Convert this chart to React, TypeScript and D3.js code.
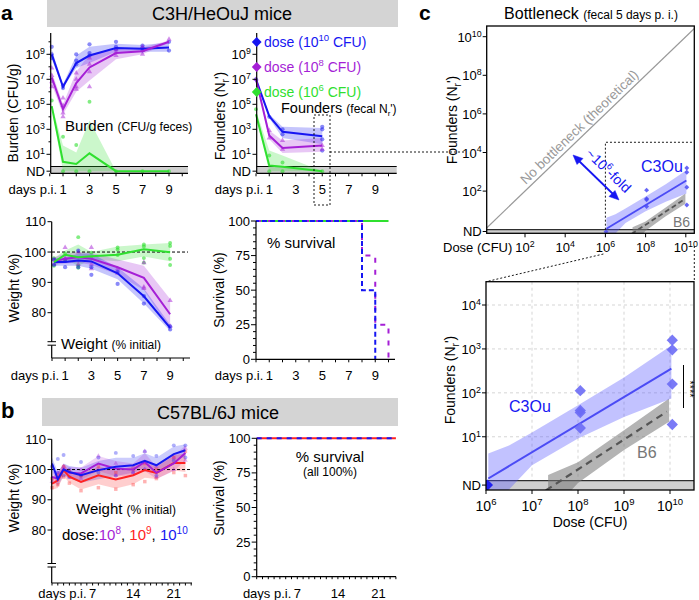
import React from "react";
import * as d3 from "d3";

const FONT = "'Liberation Sans', Arial, Helvetica, sans-serif";
const BLUE = "#1616f2";
const PURPLE = "#a51fd6";
const GREEN = "#2fe02f";
const RED = "#ff2222";
const CBLUE = "#4b4bf5";
const ND_A = -0.35;
const ND_C = -0.1;

// ---------- panel a: burden (log10 CFU/g) ----------
const burdenDays = [0.15, 1, 2, 3, 5, 7, 9];
const burdenBlue = [9.0, 6.4, 8.3, 8.9, 9.5, 9.45, 9.55];
const burdenBlueLo = [8.6, 6.3, 7.9, 8.3, 9.2, 9.2, 9.2];
const burdenBlueHi = [9.4, 6.6, 8.9, 9.6, 9.85, 9.75, 9.95];
const burdenPurple = [7.15, 4.6, 6.7, 7.95, 9.1, 9.25, 10.0];
const burdenPurpleLo = [6.6, 4.2, 6.0, 6.9, 8.6, 9.0, 9.9];
const burdenPurpleHi = [7.6, 5.0, 7.6, 9.0, 9.4, 9.55, 10.1];
const burdenGreen = [4.85, 0.4, 0.22, 1.08, ND_A, ND_A, ND_A];
const burdenGreenLo = [4.7, ND_A, ND_A, ND_A, ND_A, ND_A, ND_A];
const burdenGreenHi = [5.0, 1.7, 1.15, 3.7, ND_A, ND_A, ND_A];
const burdenBluePts = [[0.15, 9.6], [0.15, 9.0], [0.15, 8.7], [1, 6.5], [1, 6.3], [2, 9.0], [2, 8.5], [2, 8.2], [3, 9.8], [3, 9.1], [3, 8.9], [5, 10.0], [5, 9.6], [5, 9.4], [7, 9.7], [7, 9.5], [7, 9.3], [9, 10.0], [9, 9.3]];
const burdenPurplePts = [[0.15, 7.9], [0.15, 7.3], [0.15, 6.8], [0.15, 6.4], [1, 5.5], [1, 4.9], [1, 4.3], [1, 4.0], [2, 7.5], [2, 7.0], [2, 6.4], [2, 6.2], [3, 8.7], [3, 8.2], [3, 7.6], [3, 6.4], [5, 9.4], [5, 9.2], [5, 8.9], [7, 9.6], [7, 9.3], [7, 9.0], [9, 10.2]];
const burdenGreenPts = [[0.15, 5.3], [1, 2.4], [1, ND_A], [2, 1.75], [2, ND_A], [3, 5.2], [3, ND_A], [5, ND_A], [7, ND_A], [9, ND_A]];

// ---------- panel a: founders ----------
const fDays = [0, 1, 2, 5];
const foundBlue = [7.0, 4.05, 2.8, 2.45];
const foundBlueLo = [7.0, 3.9, 2.3, 1.8];
const foundBlueHi = [7.0, 4.2, 3.2, 3.1];
const foundPurple = [7.0, 2.5, 1.5, 1.7];
const foundPurpleLo = [7.0, 2.2, 1.1, 1.2];
const foundPurpleHi = [7.0, 2.9, 2.1, 2.3];
const foundGreen = [4.2, 0.1, 0.0, ND_A];
const foundGreenLo = [4.0, ND_A, ND_A, ND_A];
const foundGreenHi = [4.5, 1.3, 0.9, ND_A];
const foundBluePts = [[0, 7.0], [1, 4.0], [2, 3.0], [2, 2.6], [5, 3.2], [5, 3.0], [5, 2.2], [5, 1.3]];
const foundPurplePts = [[0, 7.0], [1, 2.9], [1, 2.3], [2, 2.1], [2, 1.4], [5, 1.7], [5, 1.4]];
const foundGreenPts = [[0, 4.6], [1, 0.9], [1, ND_A], [2, 0.35], [2, ND_A], [5, ND_A]];
const legendDoses = ["10", "8", "6"];

// ---------- panel a: weight ----------
const wDays = [0.15, 1, 2, 3, 5, 7, 9];
const wGreen = [96.7, 99.1, 98.3, 98.6, 99.1, 100.9, 99.9];
const wGreenLo = [95.5, 97.5, 95.5, 97.5, 97, 98.5, 97];
const wGreenHi = [98, 100.5, 102.5, 100, 101.8, 102.5, 103];
const wPurple = [97.0, 97.8, 98.3, 97.8, 95.0, 91.5, 79.5];
const wPurpleLo = [95.8, 96.2, 96.5, 95.8, 92.5, 87.5, 74.5];
const wPurpleHi = [98.2, 99.5, 100, 99.8, 97.5, 95.5, 84.5];
const wBlue = [96.7, 96.7, 97.2, 96.9, 93.0, 85.4, 75.0];
const wBlueLo = [95.5, 95.5, 95.5, 94.5, 91, 83, 74];
const wBlueHi = [98, 98, 99.5, 99.5, 95, 88, 76];
const wGreenPts = [[0.15, 95.5], [0.15, 98], [1, 99.5], [1, 97], [2, 104.9], [2, 95.5], [2, 94.8], [3, 99.8], [3, 98], [5, 101.5], [5, 100.8], [5, 99], [7, 102.5], [7, 101.8], [7, 98], [7, 96.5], [9, 103], [9, 102], [9, 97.8], [9, 95.7]];
const wPurplePts = [[0.15, 97.5], [0.15, 96], [1, 101.5], [1, 98], [1, 97], [2, 100], [2, 96], [3, 101.5], [3, 96], [3, 94.5], [5, 94.5], [5, 93], [7, 96.5], [7, 88.5], [7, 88], [9, 84], [9, 75.5]];
const wBluePts = [[0.15, 97.5], [0.15, 95.8], [1, 95], [1, 97.5], [2, 100.5], [2, 95], [3, 92.5], [3, 95], [5, 93.5], [5, 89.5], [7, 85.5], [7, 83], [9, 75.5], [9, 74.5]];

// ---------- panel a: survival ----------
const survGreenDays = [0, 10];
const survGreenVals = [100, 100];
const survPurpleDays = [0, 8, 9, 10];
const survPurpleVals = [100, 75, 25, 0];
const survBlueDays = [0, 8, 9];
const survBlueVals = [100, 50, 0];

// ---------- panel b: weight ----------
const bDays = [0, 1, 2, 3, 5, 8, 11, 14, 16, 18, 21, 23];
const bBlue = [102, 96.8, 100, 99.2, 98.1, 99.8, 100.9, 101.4, 102.9, 101.4, 105.1, 106.4];
const bBlueSd = [2, 2.5, 2, 2, 2.5, 3, 3, 2.5, 2.5, 2.5, 2.5, 2];
const bPurple = [97.5, 97, 100.3, 98.9, 98.7, 102, 100.3, 100, 102.5, 98.9, 102, 105.5];
const bPurpleSd = [2, 2, 1.5, 2, 2, 2.5, 2.5, 2, 3, 2, 2.5, 2.5];
const bRed = [95.3, 96.4, 99.8, 97.6, 95.9, 98.1, 96.7, 98.1, 99.8, 98.9, 102.2, 102.2];
const bRedSd = [2, 2.5, 2, 2, 2.5, 3, 3, 3, 2.5, 2, 2.5, 3];
const bBluePts = [[0, 101], [1, 103.5], [1, 99], [2, 104.8], [2, 98], [3, 100], [3, 97.5], [5, 102.5], [5, 98], [8, 104], [8, 99], [11, 105.5], [11, 98], [14, 104.5], [14, 99], [16, 106], [16, 100], [18, 104.5], [18, 98], [21, 108], [21, 103], [23, 108], [23, 104]];
const bRedPts = [[0, 94], [0, 97], [1, 95], [1, 98], [2, 97.5], [2, 101], [3, 95.5], [3, 99.5], [5, 93], [5, 98], [8, 94], [8, 101], [11, 93.5], [11, 99], [14, 95], [14, 100], [16, 96], [16, 102], [18, 97], [18, 100], [21, 99], [21, 104], [23, 98], [23, 106]];
const bPurplePts = [[0, 96], [1, 99], [2, 101], [3, 97.5], [5, 97], [5, 100], [8, 104.5], [8, 100], [11, 102], [11, 98], [14, 101], [14, 99], [16, 106], [16, 100], [18, 101], [18, 97.5], [21, 104], [21, 100], [23, 107], [23, 103]];

// ---------- panel b: survival ----------
const bSurvDays = [0, 24];
const bSurvVals = [100, 100];

// ---------- panel c ----------
const c3ouPts = [[6.03, ND_C], [8.05, 2.05], [8.05, 1.6], [8.05, 1.55], [8.05, 1.2], [10.05, 3.2], [10.05, 2.98], [10.05, 2.2], [10.05, 1.28]];
const c3ouFitX = [6.05, 10.03];
const c3ouFitY = [0.05, 2.55];
const c3ouBandX = [6.05, 6.5, 7, 8, 9, 10.03];
const c3ouBandLo = [-0.55, -0.2, 0.35, 0.96, 1.45, 1.87];
const c3ouBandHi = [0.62, 0.8, 1.1, 1.72, 2.35, 3.08];
const b6FitX = [7.3, 9.93];
const b6FitY = [-0.22, 1.57];
const b6BandX = [7.35, 8, 9, 9.98];
const b6BandLo = [-0.8, -0.05, 0.7, 1.34];
const b6BandHi = [0.13, 0.42, 1.15, 1.87];
const cTopTicks = [10, 8, 6, 4, 2];
const cTopXTicks = [2, 4, 6, 8, 10];
const cBotYTicks = [4, 3, 2, 1];
const cBotXTicks = [6, 7, 8, 9, 10];

type Sc = d3.ScaleLinear<number, number>;

function areaPath(xs: number[], lo: number[], hi: number[], x: Sc, y: Sc) {
  return d3.area<number>().x((_, i) => x(xs[i])).y0((_, i) => y(lo[i])).y1((_, i) => y(hi[i]))(xs) || "";
}
function linePath(xs: number[], ys: number[], x: Sc, y: Sc, curve: any = d3.curveLinear) {
  return d3.line<number>().x((_, i) => x(xs[i])).y((_, i) => y(ys[i])).curve(curve)(xs) || "";
}
const sym = (t: any, s: number) => d3.symbol().type(t).size(s)() || "";

function Pts({ pts, x, y, color, type, size = 14, op = 0.5, rot = 0 }: any) {
  const p = sym(type, size);
  return (
    <g>
      {pts.map((d: number[], i: number) => (
        <path key={i} d={p} transform={`translate(${x(d[0])},${y(d[1])}) rotate(${rot})`} fill={color} opacity={op} />
      ))}
    </g>
  );
}

function Pow({ e, fs = 13 }: { e: string; fs?: number }) {
  return (
    <>
      10<tspan dy={-fs * 0.4} fontSize={fs * 0.68}>{e}</tspan>
    </>
  );
}

function XDays({ x, y0, x0, x1, days, labels, labelY, minorLen = 3 }: any) {
  return (
    <g>
      <line x1={x0} x2={x1} y1={y0} y2={y0} stroke="#000" strokeWidth={1.2} />
      {days.map((d: number) => (
        <line key={d} x1={x(d)} x2={x(d)} y1={y0} y2={y0 + minorLen} stroke="#000" strokeWidth={1} />
      ))}
      <text x={x(labels[0]) - 6} y={labelY} fontSize={13} textAnchor="end">days p.i.</text>
      {labels.map((d: number) => (
        <text key={d} x={x(d)} y={labelY} fontSize={13} textAnchor="middle">{d}</text>
      ))}
    </g>
  );
}

export default function App() {
  const xA1 = d3.scaleLinear().domain([0, 10]).range([49.75, 182.25]);
  const yA = d3.scaleLinear().domain([1, 9]).range([154.3, 54.3]);
  const xA2 = d3.scaleLinear().domain([0, 10]).range([256, 388.5]);
  const xA3 = d3.scaleLinear().domain([0, 10]).range([52, 183.25]);
  const yA3 = d3.scaleLinear().domain([80, 110]).range([312.7, 221.7]);
  const xA4 = d3.scaleLinear().domain([0, 10]).range([256, 388.5]);
  const yA4 = d3.scaleLinear().domain([0, 100]).range([359.3, 221]);
  const xB1 = d3.scaleLinear().domain([0, 24]).range([52, 191.2]);
  const yB1 = d3.scaleLinear().domain([80, 110]).range([530, 439.3]);
  const xB2 = d3.scaleLinear().domain([0, 24]).range([256.7, 395.9]);
  const yB2 = d3.scaleLinear().domain([0, 100]).range([576.7, 438.3]);
  const xC1 = d3.scaleLinear().domain([0, 10]).range([484.8, 685.8]);
  const yC1 = d3.scaleLinear().domain([0, 10]).range([229.7, 36.7]);
  const xC2 = d3.scaleLinear().domain([6, 10]).range([486, 670]);
  const yC2 = d3.scaleLinear().domain([0, 4]).range([480.7, 305]);

  const allDays = d3.range(0, 11);
  const oddDays = [1, 3, 5, 7, 9];
  const bAllDays = d3.range(0, 25);

  const bLo = (v: number[], s: number[]) => v.map((d, i) => d - s[i]);
  const bHi = (v: number[], s: number[]) => v.map((d, i) => d + s[i]);

  const cT = { x0: 486.7, x1: 694.3, y0: 26, y1: 233.3 };
  const cB = { x0: 486, x1: 694, y0: 281.7, y1: 490 };

  const diagAng = (Math.atan2(yC1(0) - yC1(1), xC1(1) - xC1(0)) * 180) / Math.PI;

  return (
    <svg width={699} height={600} style={{ display: "block", position: "absolute", left: 0, top: 0 }} fontFamily={FONT}>
      <defs>
        <clipPath id="clipCT"><rect x={cT.x0} y={cT.y0} width={cT.x1 - cT.x0} height={cT.y1 - cT.y0} /></clipPath>
        <clipPath id="clipCB"><rect x={cB.x0} y={cB.y0} width={cB.x1 - cB.x0} height={cB.y1 - cB.y0} /></clipPath>
      </defs>
      <rect x={0} y={0} width={699} height={600} fill="#fff" />

      {/* headers */}
      <text x={1} y={19.5} fontSize={21} fontWeight="bold">a</text>
      <rect x={47} y={0} width={351} height={27} fill="#d4d4d4" />
      <text x={222} y={20} fontSize={18} textAnchor="middle">C3H/HeOuJ mice</text>
      <text x={1} y={418} fontSize={22} fontWeight="bold">b</text>
      <rect x={42} y={398} width={356} height={28} fill="#d4d4d4" />
      <text x={218} y={419} fontSize={18} textAnchor="middle">C57BL/6J mice</text>
      <text x={419} y={19.5} fontSize={21} fontWeight="bold">c</text>

      {/* ===== A1 burden ===== */}
      <g>
        <rect x={50.7} y={166.5} width={137.3} height={6.8} fill="#cfcfcf" />
        <line x1={50.7} x2={188} y1={166.5} y2={166.5} stroke="#000" strokeWidth={1} />
        <path d={areaPath(burdenDays, burdenBlueLo, burdenBlueHi, xA1, yA)} fill={BLUE} opacity={0.25} />
        <path d={areaPath(burdenDays, burdenPurpleLo, burdenPurpleHi, xA1, yA)} fill={PURPLE} opacity={0.25} />
        <path d={areaPath(burdenDays, burdenGreenLo, burdenGreenHi, xA1, yA)} fill={GREEN} opacity={0.25} />
        <Pts pts={burdenBluePts} x={xA1} y={yA} color={BLUE} type={d3.symbolCircle} size={14} />
        <Pts pts={burdenPurplePts} x={xA1} y={yA} color={PURPLE} type={d3.symbolTriangle} size={12} />
        <Pts pts={burdenGreenPts} x={xA1} y={yA} color={GREEN} type={d3.symbolCircle} size={12} op={0.6} />
        <path d={linePath(burdenDays, burdenBlue, xA1, yA)} fill="none" stroke={BLUE} strokeWidth={2} />
        <path d={linePath(burdenDays, burdenPurple, xA1, yA)} fill="none" stroke={PURPLE} strokeWidth={2} />
        <path d={linePath(burdenDays, burdenGreen, xA1, yA)} fill="none" stroke={GREEN} strokeWidth={2} />
        <line x1={50.7} x2={50.7} y1={33} y2={173.3} stroke="#000" strokeWidth={1.2} />
        {[9, 7, 5, 3, 1].map((e) => (
          <g key={e}>
            <line x1={46.5} x2={50.7} y1={yA(e)} y2={yA(e)} stroke="#000" />
            <text x={45} y={yA(e) + 5} fontSize={13} textAnchor="end"><Pow e={String(e)} /></text>
          </g>
        ))}
        {[10, 8, 6, 4, 2].map((e) => (
          <line key={e} x1={48.5} x2={50.7} y1={yA(e)} y2={yA(e)} stroke="#000" />
        ))}
        <line x1={46.5} x2={50.7} y1={yA(ND_A)} y2={yA(ND_A)} stroke="#000" />
        <text x={45} y={yA(ND_A) + 5} fontSize={13} textAnchor="end">ND</text>
        <XDays x={xA1} y0={173.3} x0={50.7} x1={188} days={allDays} labels={oddDays} labelY={194} />
        <text transform="translate(18,113) rotate(-90)" fontSize={14} textAnchor="middle">Burden (CFU/g)</text>
        <text x={65} y={131} fontSize={15}>Burden <tspan fontSize={12}>(CFU/g feces)</tspan></text>
      </g>

      {/* ===== A2 founders ===== */}
      <g>
        <rect x={256.7} y={166.5} width={140} height={6.8} fill="#cfcfcf" />
        <line x1={256.7} x2={396.7} y1={166.5} y2={166.5} stroke="#000" strokeWidth={1} />
        <path d={areaPath(fDays, foundBlueLo, foundBlueHi, xA2, yA)} fill={BLUE} opacity={0.25} />
        <path d={areaPath(fDays, foundPurpleLo, foundPurpleHi, xA2, yA)} fill={PURPLE} opacity={0.25} />
        <path d={areaPath(fDays, foundGreenLo, foundGreenHi, xA2, yA)} fill={GREEN} opacity={0.25} />
        <Pts pts={foundBluePts} x={xA2} y={yA} color={BLUE} type={d3.symbolCircle} size={14} />
        <Pts pts={foundPurplePts} x={xA2} y={yA} color={PURPLE} type={d3.symbolTriangle} size={12} />
        <Pts pts={foundGreenPts} x={xA2} y={yA} color={GREEN} type={d3.symbolCircle} size={12} op={0.6} />
        <path d={linePath(fDays, foundBlue, xA2, yA)} fill="none" stroke={BLUE} strokeWidth={2} />
        <path d={linePath(fDays, foundPurple, xA2, yA)} fill="none" stroke={PURPLE} strokeWidth={2} />
        <path d={linePath(fDays, foundGreen, xA2, yA)} fill="none" stroke={GREEN} strokeWidth={2} />
        <line x1={256.7} x2={256.7} y1={33} y2={173.3} stroke="#000" strokeWidth={1.2} />
        {[9, 7, 5, 3, 1].map((e) => (
          <g key={e}>
            <line x1={252.5} x2={256.7} y1={yA(e)} y2={yA(e)} stroke="#000" />
            <text x={251} y={yA(e) + 5} fontSize={13} textAnchor="end"><Pow e={String(e)} /></text>
          </g>
        ))}
        <line x1={252.5} x2={256.7} y1={yA(ND_A)} y2={yA(ND_A)} stroke="#000" />
        <text x={251} y={yA(ND_A) + 5} fontSize={13} textAnchor="end">ND</text>
        <XDays x={xA2} y0={173.3} x0={256.7} x1={396.7} days={allDays} labels={oddDays} labelY={194} />
        <text transform="translate(225,116) rotate(-90)" fontSize={14} textAnchor="middle">
          Founders (N<tspan dy={4} fontSize={10}>r</tspan><tspan dy={-4}>')</tspan>
        </text>
        {[BLUE, PURPLE, GREEN].map((c, i) => (
          <g key={i}>
            <path d={sym(d3.symbolSquare, 48)} transform={`translate(256.7,${42 + i * 25}) rotate(45)`} fill={c} />
            <text x={264} y={46.5 + i * 25} fontSize={14} fill={c}>
              dose (10<tspan dy={-6} fontSize={9.5}>{legendDoses[i]}</tspan><tspan dy={6}> CFU)</tspan>
            </text>
          </g>
        ))}
        <text x={281} y={113} fontSize={14.5}>Founders <tspan fontSize={12}>(fecal N</tspan><tspan fontSize={8} dy={3}>r</tspan><tspan fontSize={12} dy={-3}>')</tspan></text>
        <g stroke="#000" strokeWidth={0.9} strokeDasharray="2 2" fill="none">
          <path d="M314,115 H330 V205 H314 Z" />
          <line x1={330} x2={466} y1={152} y2={152} />
        </g>
      </g>

      {/* ===== A3 weight ===== */}
      <g>
        <path d={areaPath(wDays, wGreenLo, wGreenHi, xA3, yA3)} fill={GREEN} opacity={0.25} />
        <path d={areaPath(wDays, wPurpleLo, wPurpleHi, xA3, yA3)} fill={PURPLE} opacity={0.25} />
        <path d={areaPath(wDays, wBlueLo, wBlueHi, xA3, yA3)} fill={BLUE} opacity={0.25} />
        <line x1={52} x2={188} y1={yA3(100)} y2={yA3(100)} stroke="#000" strokeDasharray="3 2" strokeWidth={1} />
        <Pts pts={wGreenPts} x={xA3} y={yA3} color={GREEN} type={d3.symbolCircle} size={12} op={0.6} />
        <Pts pts={wPurplePts} x={xA3} y={yA3} color={PURPLE} type={d3.symbolTriangle} size={12} />
        <Pts pts={wBluePts} x={xA3} y={yA3} color={BLUE} type={d3.symbolCircle} size={14} />
        <path d={linePath(wDays, wPurple, xA3, yA3)} fill="none" stroke={PURPLE} strokeWidth={2} />
        <path d={linePath(wDays, wBlue, xA3, yA3)} fill="none" stroke={BLUE} strokeWidth={2} />
        <path d={linePath(wDays, wGreen, xA3, yA3)} fill="none" stroke={GREEN} strokeWidth={2} />
        <line x1={51.7} x2={51.7} y1={yA3(110)} y2={341.7} stroke="#000" strokeWidth={1.2} />
        <line x1={51.7} x2={51.7} y1={345.2} y2={358} stroke="#000" strokeWidth={1.2} />
        <line x1={47.5} x2={56} y1={341.7} y2={341.7} stroke="#000" strokeWidth={1} />
        <line x1={47.5} x2={56} y1={345.2} y2={345.2} stroke="#000" strokeWidth={1} />
        {[110, 100, 90, 80].map((v) => (
          <g key={v}>
            <line x1={47.5} x2={51.7} y1={yA3(v)} y2={yA3(v)} stroke="#000" />
            <text x={46} y={yA3(v) + 4.5} fontSize={13} textAnchor="end">{v}</text>
          </g>
        ))}
        <XDays x={xA3} y0={358} x0={51.7} x1={190} days={allDays} labels={oddDays} labelY={380} />
        <text transform="translate(19,288) rotate(-90)" fontSize={14} textAnchor="middle">Weight  (%)</text>
        <text x={61} y={349} fontSize={15}>Weight <tspan fontSize={12}>(% initial)</tspan></text>
      </g>

      {/* ===== A4 survival ===== */}
      <g>
        <path d={linePath(survGreenDays, survGreenVals, xA4, yA4)} fill="none" stroke={GREEN} strokeWidth={2.2} />
        <path d={linePath(survPurpleDays, survPurpleVals, xA4, yA4, d3.curveStepAfter)} fill="none" stroke={PURPLE} strokeWidth={2} strokeDasharray="5 7" />
        <path d={linePath(survBlueDays, survBlueVals, xA4, yA4, d3.curveStepAfter)} fill="none" stroke={BLUE} strokeWidth={2} strokeDasharray="5 3" strokeDashoffset={-6} />
        <line x1={256} x2={256} y1={yA4(100)} y2={yA4(0)} stroke="#000" strokeWidth={1.2} />
        {d3.range(0, 101, 5).map((v) => (
          <line key={v} x1={v % 25 === 0 ? 251 : 253} x2={256} y1={yA4(v)} y2={yA4(v)} stroke="#000" />
        ))}
        {[100, 75, 50, 25, 0].map((v) => (
          <text key={v} x={250} y={yA4(v) + 4.5} fontSize={13} textAnchor="end">{v}</text>
        ))}
        <XDays x={xA4} y0={359.3} x0={256} x1={395} days={allDays} labels={oddDays} labelY={380} />
        <text transform="translate(224,290) rotate(-90)" fontSize={14} textAnchor="middle">Survival (%)</text>
        <text x={267} y={248} fontSize={15}>% survival</text>
      </g>

      {/* ===== B1 weight ===== */}
      <g>
        <path d={areaPath(bDays, bLo(bBlue, bBlueSd), bHi(bBlue, bBlueSd), xB1, yB1)} fill={BLUE} opacity={0.22} />
        <path d={areaPath(bDays, bLo(bPurple, bPurpleSd), bHi(bPurple, bPurpleSd), xB1, yB1)} fill={PURPLE} opacity={0.2} />
        <path d={areaPath(bDays, bLo(bRed, bRedSd), bHi(bRed, bRedSd), xB1, yB1)} fill={RED} opacity={0.22} />
        <line x1={52} x2={190} y1={yB1(100)} y2={yB1(100)} stroke="#000" strokeDasharray="3 2" strokeWidth={1} />
        <Pts pts={bBluePts} x={xB1} y={yB1} color={BLUE} type={d3.symbolCircle} size={12} op={0.35} />
        <Pts pts={bRedPts} x={xB1} y={yB1} color={RED} type={d3.symbolSquare} size={12} op={0.35} />
        <Pts pts={bPurplePts} x={xB1} y={yB1} color={PURPLE} type={d3.symbolTriangle} size={10} op={0.35} />
        <path d={linePath(bDays, bRed, xB1, yB1)} fill="none" stroke={RED} strokeWidth={2} />
        <path d={linePath(bDays, bPurple, xB1, yB1)} fill="none" stroke={PURPLE} strokeWidth={2} />
        <path d={linePath(bDays, bBlue, xB1, yB1)} fill="none" stroke={BLUE} strokeWidth={2} />
        <line x1={51.7} x2={51.7} y1={yB1(110)} y2={563.5} stroke="#000" strokeWidth={1.2} />
        <line x1={51.7} x2={51.7} y1={567} y2={583} stroke="#000" strokeWidth={1.2} />
        <line x1={47.5} x2={56} y1={563.5} y2={563.5} stroke="#000" />
        <line x1={47.5} x2={56} y1={567} y2={567} stroke="#000" />
        {[110, 100, 90, 80].map((v) => (
          <g key={v}>
            <line x1={47.5} x2={51.7} y1={yB1(v)} y2={yB1(v)} stroke="#000" />
            <text x={46} y={yB1(v) + 4.5} fontSize={13} textAnchor="end">{v}</text>
          </g>
        ))}
        <XDays x={xB1} y0={583} x0={51.7} x1={192} days={bAllDays} labels={[7, 14, 21]} labelY={598} minorLen={2.5} />
        <text transform="translate(19,498) rotate(-90)" fontSize={14} textAnchor="middle">Weight  (%)</text>
        <text x={76} y={514} fontSize={15}>Weight <tspan fontSize={12}>(% initial)</tspan></text>
        <text x={62} y={540} fontSize={15}>
          dose:<tspan fill={PURPLE}>10</tspan><tspan fill={PURPLE} dy={-6} fontSize={10}>8</tspan>
          <tspan dy={6}>, </tspan><tspan fill={RED}>10</tspan><tspan fill={RED} dy={-6} fontSize={10}>9</tspan>
          <tspan dy={6}>, </tspan><tspan fill={BLUE}>10</tspan><tspan fill={BLUE} dy={-6} fontSize={10}>10</tspan>
        </text>
      </g>

      {/* ===== B2 survival ===== */}
      <g>
        <path d={linePath(bSurvDays, bSurvVals, xB2, yB2)} fill="none" stroke={RED} strokeWidth={2} />
        <path d={linePath(bSurvDays, bSurvVals, xB2, yB2)} fill="none" stroke={BLUE} strokeWidth={2} strokeDasharray="5 5" />
        <line x1={256.7} x2={256.7} y1={yB2(100)} y2={yB2(0)} stroke="#000" strokeWidth={1.2} />
        {d3.range(0, 101, 5).map((v) => (
          <line key={v} x1={v % 25 === 0 ? 251.7 : 253.7} x2={256.7} y1={yB2(v)} y2={yB2(v)} stroke="#000" />
        ))}
        {[100, 75, 50, 25, 0].map((v) => (
          <text key={v} x={250.5} y={yB2(v) + 4.5} fontSize={13} textAnchor="end">{v}</text>
        ))}
        <XDays x={xB2} y0={576.7} x0={256.7} x1={396} days={bAllDays} labels={[7, 14, 21]} labelY={598} minorLen={2.5} />
        <text transform="translate(224,498) rotate(-90)" fontSize={14} textAnchor="middle">Survival (%)</text>
        <text x={330} y={462} fontSize={15} textAnchor="middle">% survival</text>
        <text x={330} y={476} fontSize={12} textAnchor="middle">(all 100%)</text>
      </g>

      {/* ===== C top ===== */}
      <g>
        <text x={591} y={19} fontSize={16} textAnchor="middle">Bottleneck <tspan fontSize={12}>(fecal 5 days p. i.)</tspan></text>
        <rect x={cT.x0} y={yC1(0)} width={cT.x1 - cT.x0} height={cT.y1 - yC1(0)} fill="#cfcfcf" />
        <line x1={cT.x0} x2={cT.x1} y1={yC1(0)} y2={yC1(0)} stroke="#000" strokeWidth={1} />
        <g clipPath="url(#clipCT)">
          <line x1={xC1(0)} y1={yC1(0)} x2={xC1(10.6)} y2={yC1(10.6)} stroke="#999" strokeWidth={1.2} />
          <path d={areaPath(b6BandX, b6BandLo, b6BandHi, xC1, yC1)} fill="#777" opacity={0.55} />
          <path d={linePath(b6FitX, b6FitY, xC1, yC1)} stroke="#555" strokeWidth={1.8} strokeDasharray="5 3" fill="none" />
          <path d={areaPath(c3ouBandX, c3ouBandLo, c3ouBandHi, xC1, yC1)} fill="#5050ff" opacity={0.35} />
          <path d={linePath(c3ouFitX, c3ouFitY, xC1, yC1)} stroke={CBLUE} strokeWidth={1.8} fill="none" />
          <Pts pts={c3ouPts} x={xC1} y={yC1} color={CBLUE} type={d3.symbolSquare} size={12} op={0.85} rot={45} />
        </g>
        <g stroke="#000" strokeWidth={0.9} strokeDasharray="2 2" fill="none">
          <path d={`M${xC1(6)},${yC1(0)} V${yC1(4.53)} H${cT.x1}`} />
          <line x1={xC1(6) - 2} y1={254} x2={cB.x0} y2={cB.y0} />
          <line x1={cT.x1} y1={246} x2={cT.x1} y2={cB.y0} />
        </g>
        <rect x={cT.x0} y={cT.y0} width={cT.x1 - cT.x0} height={cT.y1 - cT.y0} fill="none" stroke="#000" strokeWidth={1.3} />
        {cTopTicks.map((e) => (
          <g key={e}>
            <line x1={cT.x0 - 4} x2={cT.x0} y1={yC1(e)} y2={yC1(e)} stroke="#000" />
            <text x={cT.x0 - 5} y={yC1(e) + 5} fontSize={13} textAnchor="end"><Pow e={String(e)} /></text>
          </g>
        ))}
        <line x1={cT.x0 - 4} x2={cT.x0} y1={231.5} y2={231.5} stroke="#000" />
        <text x={cT.x0 - 5} y={236} fontSize={13} textAnchor="end">ND</text>
        {cTopXTicks.map((e) => (
          <g key={e}>
            <line x1={xC1(e)} x2={xC1(e)} y1={cT.y1} y2={cT.y1 + 4} stroke="#000" />
            <text x={xC1(e)} y={252} fontSize={13} textAnchor="middle"><Pow e={String(e)} /></text>
          </g>
        ))}
        <text x={443} y={252} fontSize={13}>Dose (CFU)</text>
        <text transform="translate(457,120) rotate(-90)" fontSize={14} textAnchor="middle">
          Founders (N<tspan dy={4} fontSize={10}>r</tspan><tspan dy={-4}>')</tspan>
        </text>
        <text transform={`translate(${xC1(5)},${yC1(5)}) rotate(${-diagAng})`} dy={-4} fontSize={13.5} fill="#999" textAnchor="middle">No bottleneck (theoretical)</text>
        <g stroke={BLUE} fill={BLUE}>
          <line x1={579} y1={161} x2={613} y2={194} strokeWidth={1.8} />
          <path d="M573,155 L583,158.5 L577,164.5 Z" strokeWidth={0.5} />
          <path d="M619,200 L609,196.5 L615,190.5 Z" strokeWidth={0.5} />
        </g>
        <text transform="translate(605,174) rotate(44)" fontSize={14} fill={BLUE} textAnchor="middle">
          ~10<tspan dy={-6} fontSize={9.5}>6</tspan><tspan dy={6}>-fold</tspan>
        </text>
        <text x={641} y={172} fontSize={16} fill={BLUE}>C3Ou</text>
        <text x={673} y={227} fontSize={14} fill="#777">B6</text>
      </g>

      {/* ===== C bottom ===== */}
      <g>
        <g stroke="#d0d0d0" strokeDasharray="3 3" strokeWidth={0.9}>
          {[7, 8, 9, 10].map((e) => (
            <line key={e} x1={xC2(e)} x2={xC2(e)} y1={cB.y0} y2={cB.y1} />
          ))}
          {[1, 2, 3, 4].map((e) => (
            <line key={e} x1={cB.x0} x2={cB.x1} y1={yC2(e)} y2={yC2(e)} />
          ))}
        </g>
        <rect x={cB.x0} y={yC2(0)} width={cB.x1 - cB.x0} height={cB.y1 - yC2(0)} fill="#cfcfcf" />
        <line x1={cB.x0} x2={cB.x1} y1={yC2(0)} y2={yC2(0)} stroke="#000" strokeWidth={1} />
        <g clipPath="url(#clipCB)">
          <path d={areaPath(b6BandX, b6BandLo, b6BandHi, xC2, yC2)} fill="#777" opacity={0.55} />
          <path d={linePath(b6FitX, b6FitY, xC2, yC2)} stroke="#555" strokeWidth={2.2} strokeDasharray="7 5" fill="none" />
          <path d={areaPath(c3ouBandX, c3ouBandLo, c3ouBandHi, xC2, yC2)} fill="#5050ff" opacity={0.35} />
          <path d={linePath(c3ouFitX, c3ouFitY, xC2, yC2)} stroke={CBLUE} strokeWidth={2} fill="none" />
          <Pts pts={c3ouPts.slice(1)} x={xC2} y={yC2} color="#6b6bf5" type={d3.symbolSquare} size={64} op={0.9} rot={45} />
          <Pts pts={c3ouPts.slice(0, 1)} x={xC2} y={yC2} color="#2020f0" type={d3.symbolSquare} size={64} op={1} rot={45} />
        </g>
        <rect x={cB.x0} y={cB.y0} width={cB.x1 - cB.x0} height={cB.y1 - cB.y0} fill="none" stroke="#000" strokeWidth={1.3} />
        {cBotYTicks.map((e) => (
          <g key={e}>
            <line x1={cB.x0 - 4} x2={cB.x0} y1={yC2(e)} y2={yC2(e)} stroke="#000" />
            <text x={cB.x0 - 5} y={yC2(e) + 5} fontSize={13} textAnchor="end"><Pow e={String(e)} /></text>
          </g>
        ))}
        <line x1={cB.x0 - 4} x2={cB.x0} y1={yC2(ND_C)} y2={yC2(ND_C)} stroke="#000" />
        <text x={cB.x0 - 5} y={yC2(ND_C) + 5} fontSize={13} textAnchor="end">ND</text>
        {cBotXTicks.map((e) => (
          <g key={e}>
            <line x1={xC2(e)} x2={xC2(e)} y1={cB.y1} y2={cB.y1 + 4} stroke="#000" />
            <text x={xC2(e)} y={511} fontSize={14} textAnchor="middle"><Pow e={String(e)} fs={14} /></text>
          </g>
        ))}
        <text x={590} y={527} fontSize={14} textAnchor="middle">Dose (CFU)</text>
        <text transform="translate(455,380) rotate(-90)" fontSize={14} textAnchor="middle">
          Founders (N<tspan dy={4} fontSize={10}>r</tspan><tspan dy={-4}>')</tspan>
        </text>
        <text x={509} y={412} fontSize={16} fill={BLUE}>C3Ou</text>
        <text x={637} y={458} fontSize={16} fill="#777">B6</text>
        <line x1={683.5} x2={683.5} y1={365} y2={408} stroke="#000" strokeWidth={1} />
        <text transform="translate(686,389) rotate(90)" fontSize={11} textAnchor="middle">****</text>
      </g>
    </svg>
  );
}
